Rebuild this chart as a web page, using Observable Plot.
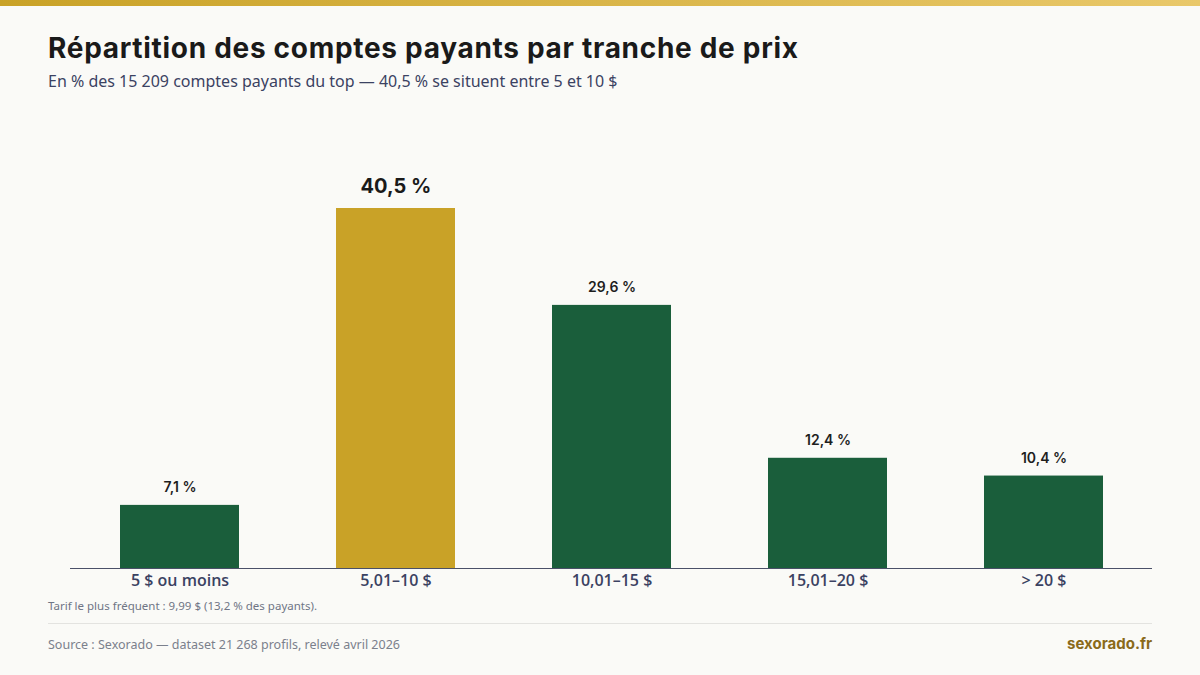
<!DOCTYPE html>
<html><head><meta charset="utf-8">
<script src="https://cdn.jsdelivr.net/npm/d3@7"></script>
<script src="https://cdn.jsdelivr.net/npm/@observablehq/plot@0.6"></script>
<style>
html,body{margin:0;padding:0;background:#fafaf7;width:1200px;height:675px;overflow:hidden;position:relative;font-family:"Noto Sans",sans-serif;}
#bar{position:absolute;left:0;top:0;width:1200px;height:6px;background:linear-gradient(90deg,#c9a227,#e9c86a);}
#title{position:absolute;left:48px;top:31px;margin:0;font-family:Inter,sans-serif;font-weight:700;font-size:28px;color:#1a1a1a;letter-spacing:0.7px;white-space:nowrap;line-height:34px;}
#sub{position:absolute;left:48px;top:70px;font-size:16px;color:#3b4262;white-space:nowrap;}
#chart{position:absolute;left:0;top:100px;}
#note{position:absolute;left:48px;top:598px;font-size:11.5px;color:#6f7585;}
#rule{position:absolute;left:48px;top:623px;width:1104px;height:1px;background:#e3e3e0;}
#src{position:absolute;left:48px;top:636px;font-size:12.5px;color:#7b808c;}
#brand{position:absolute;right:48px;top:634px;font-family:Inter,sans-serif;font-weight:700;font-size:15px;color:#8a6a1a;}
</style></head>
<body>
<div id="bar"></div>
<h1 id="title">Répartition des comptes payants par tranche de prix</h1>
<div id="sub">En % des 15 209 comptes payants du top — 40,5 % se situent entre 5 et 10 $</div>
<div id="chart"></div>
<div id="note">Tarif le plus fréquent : 9,99 $ (13,2 % des payants).</div>
<div id="rule"></div>
<div id="src">Source : Sexorado — dataset 21 268 profils, relevé avril 2026</div>
<div id="brand">sexorado.fr</div>
<script>
const categories = ["5 $ ou moins", "5,01–10 $", "10,01–15 $", "15,01–20 $", "> 20 $"];
const values = [7.1, 40.5, 29.6, 12.4, 10.4];
const highlight = "5,01–10 $";

const data = categories.map((c, i) => ({cat: c, v: values[i], hi: c === highlight}));
const fmt = v => v.toFixed(1).replace(".", ",") + " %";

const chart = Plot.plot({
  width: 1200, height: 500,
  marginLeft: 70, marginRight: 48, marginTop: 68, marginBottom: 32,
  style: {background: "transparent", fontFamily: "'Open Sans', sans-serif"},
  x: {domain: categories, paddingInner: 0.45, paddingOuter: 0.225, label: null},
  y: {domain: [0, 45], axis: null},
  marks: [
    Plot.barY(data, {x: "cat", y: "v", fill: d => d.hi ? "#c9a227" : "#1a5e3b"}),
    Plot.ruleY([0], {stroke: "#4a5068", strokeWidth: 1}),
    Plot.axisX({tickSize: 0, tickPadding: 6, fontSize: 16, fontWeight: 600, fill: "#3b4262", fontFamily: "'Open Sans', sans-serif", label: null}),
    Plot.text(data.filter(d => !d.hi), {x: "cat", y: "v", text: d => fmt(d.v), dy: -18, fontSize: 14, fontWeight: 600, fill: "#1e1e1e", fontFamily: "Inter, sans-serif"}),
    Plot.text(data.filter(d => d.hi), {x: "cat", y: "v", text: d => fmt(d.v), dy: -22, fontSize: 20, fontWeight: 700, fill: "#1a1a1a", fontFamily: "Inter, sans-serif"})
  ]
});
document.getElementById("chart").appendChild(chart);
</script>
</body></html>
